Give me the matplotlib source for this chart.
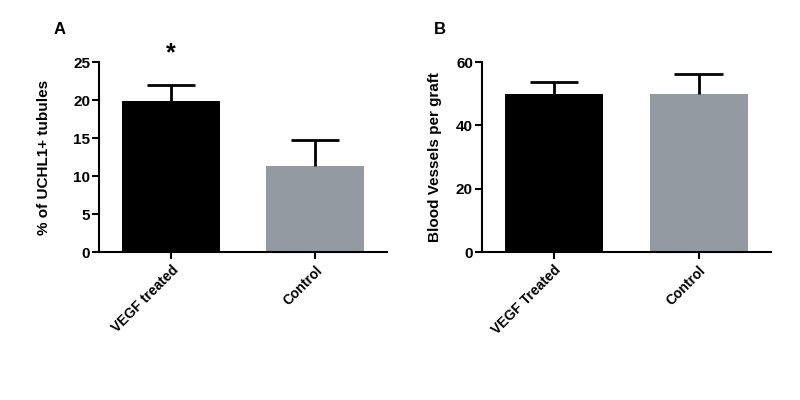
import matplotlib.pyplot as plt
import numpy as np

plt.rcParams["font.family"] = ["Liberation Sans", "DejaVu Sans"]
plt.rcParams["font.weight"] = "bold"

# panel A
groups_a = ["VEGF treated", "Control"]
means_a = [19.9, 11.35]
sem_a = [2.1, 3.35]

# panel B
groups_b = ["VEGF Treated", "Control"]
means_b = [49.9, 49.8]
sem_b = [3.7, 6.3]

colors = ["#000000", "#939aa1"]


def draw_panel(ax, labels, means, errs, ylim, yticks, ylabel, labelpad):
    pos = np.arange(len(labels))
    ax.bar(pos, means, width=0.68, color=colors, zorder=2)
    # upper-only error bars, cap only at the top
    tops = [m + e for m, e in zip(means, errs)]
    ax.vlines(pos, means, tops, color="black", linewidth=2.0, zorder=3)
    ax.hlines(tops, pos - 0.167, pos + 0.167, color="black", linewidth=2.0, zorder=3)
    ax.set_xlim(-0.5, 1.5)
    ax.set_ylim(*ylim)
    ax.set_yticks(yticks)
    ax.set_xticks(pos)
    ax.set_xticklabels(labels, rotation=45, ha="right", rotation_mode="anchor",
                       fontsize=10, fontweight="bold")
    ax.tick_params(axis="y", labelsize=11, width=1.5, length=5, direction="out", pad=1.5)
    ax.tick_params(axis="x", width=1.5, length=5, direction="out", pad=3)
    for lab in ax.get_yticklabels():
        lab.set_fontweight("bold")
    ax.spines["top"].set_visible(False)
    ax.spines["right"].set_visible(False)
    ax.spines["left"].set_linewidth(1.5)
    ax.spines["bottom"].set_linewidth(1.5)
    ax.set_ylabel(ylabel, fontsize=11, fontweight="bold", labelpad=labelpad)


fig = plt.figure(figsize=(8, 4), dpi=100)
ax_a = fig.add_axes([0.124, 0.37, 0.36, 0.475])
ax_b = fig.add_axes([0.6025, 0.37, 0.361, 0.475])

draw_panel(ax_a, groups_a, means_a, sem_a, (0, 25), [0, 5, 10, 15, 20, 25],
           "% of UCHL1+ tubules", 16)
draw_panel(ax_b, groups_b, means_b, sem_b, (0, 60), [0, 20, 40, 60],
           "Blood Vessels per graft", 10)

ax_a.text(0, 26.2, "*", ha="center", va="center", fontsize=18, fontweight="bold")

fig.text(60 / 800, 1 - 30 / 400, "A", ha="center", va="center", fontsize=12, fontweight="bold")
fig.text(440 / 800, 1 - 30 / 400, "B", ha="center", va="center", fontsize=12, fontweight="bold")

fig.savefig("out.png", dpi=100)
